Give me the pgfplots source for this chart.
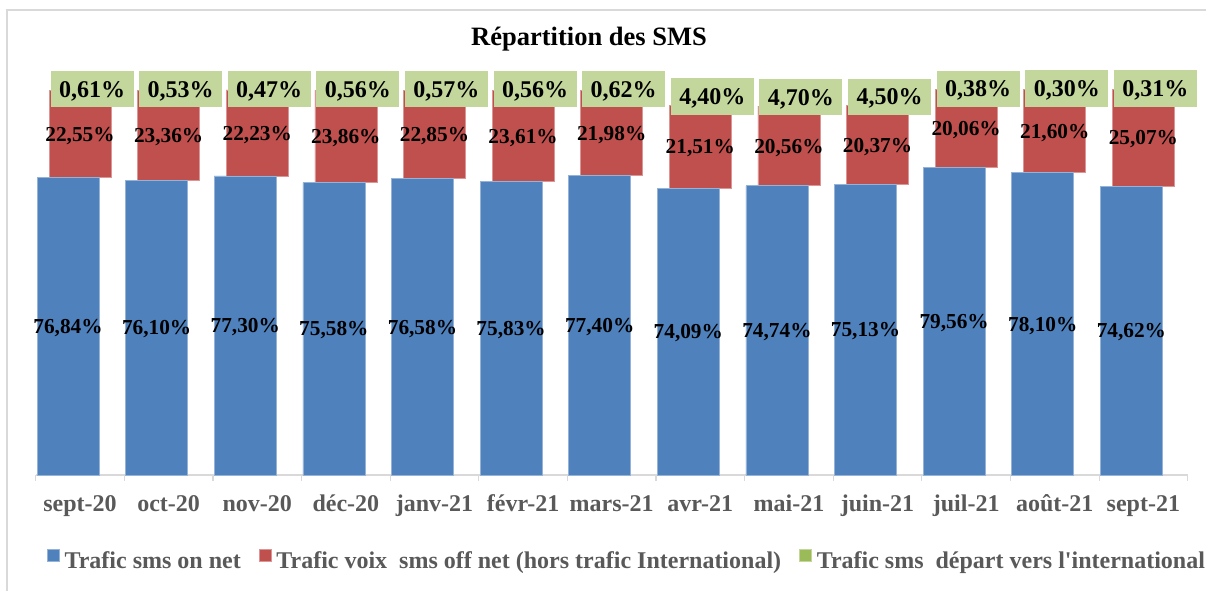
\documentclass[border=0pt]{standalone}
\usepackage{pgfplots}
\pgfplotsset{compat=1.18}
\usepackage{pgfplotstable}
\usepackage{fontspec}
\setmainfont{Liberation Serif}
\definecolor{cblue}{HTML}{4F81BD}
\definecolor{cred}{HTML}{C0504D}
\definecolor{cgreen}{HTML}{9BBB59}
\definecolor{cbox}{HTML}{C3D69B}
\definecolor{ctxt}{HTML}{595959}
\definecolor{cframe}{HTML}{D9D9D9}

\pgfplotstableread{
x on off intl
0 76.84 22.55 0.61
1 76.10 23.36 0.53
2 77.30 22.23 0.47
3 75.58 23.86 0.56
4 76.58 22.85 0.57
5 75.83 23.61 0.56
6 77.40 21.98 0.62
7 74.09 21.51 4.40
8 74.74 20.56 4.70
9 75.13 20.37 4.50
10 79.56 20.06 0.38
11 78.10 21.60 0.30
12 74.62 25.07 0.31
}\data

\pgfplotsset{
  frameaxis/.style={
    scale only axis, width=1152pt, height=387pt,
    at={(35.7pt,115pt)}, anchor=south west,
    xmin=-0.5, xmax=12.5, ymin=0, ymax=100,
    enlargelimits=false, clip=false,
  },
  lbl/.style={
    draw=none, mark=none, point meta=explicit,
    nodes near coords={\pgfmathprintnumber[fixed,fixed zerofill,precision=2,use comma]{\pgfplotspointmeta}\%},
  },
}

\begin{document}
\begin{tikzpicture}
\useasboundingbox (0,0) rectangle (1206pt,590pt);
\clip (0,0) rectangle (1206pt,590pt);
\draw[cframe, line width=1.2pt] (7pt,580pt) rectangle (1300pt,-50pt);

\begin{axis}[frameaxis,
  ybar stacked, bar width=62pt,
  axis x line*=bottom, axis y line=none,
  x axis line style={draw=cframe, line width=1.5pt, -},
  xtick={0,...,12},
  xticklabels={sept-20,oct-20,nov-20,déc-20,janv-21,févr-21,mars-21,avr-21,mai-21,juin-21,juil-21,août-21,sept-21},
  major tick length=0pt,
  minor xtick={-0.5,0.5,...,12.5},
  minor tick length=6pt, tick align=outside,
  minor tick style={draw=cframe, line width=1.2pt},
  xticklabel style={font=\bfseries\fontsize{24}{24}\selectfont, text=ctxt, anchor=base, yshift=-36pt},
  title={Répartition des SMS},
  title style={at={(0.4803,1.0956)}, anchor=base, font=\bfseries\fontsize{26.5}{26.5}\selectfont},
  legend columns=3,
  legend style={at={(0.0098,-0.2222)}, anchor=west, draw=none, fill=none,
    inner sep=0pt, outer sep=0pt,
    font=\bfseries\fontsize{24}{24}\selectfont, text=ctxt,
    nodes={inner sep=0pt, text height=17pt, text depth=5pt},
    /tikz/every odd column/.append style={column sep=5pt},
    /tikz/every even column/.append style={column sep=18pt}},
  legend image code/.code={\fill[#1] (0pt,1.5pt) rectangle (12pt,13.5pt);},
]
\addplot[fill=cblue, draw=cblue!60!white, line width=0.6pt, bar shift=-12pt] table[x=x,y=on]{\data};
\addplot[fill=cred, draw=cred!60!white, line width=0.6pt, bar shift=0pt] table[x=x,y=off]{\data};
\addplot[fill=cgreen, draw=cgreen!60!white, line width=0.6pt, bar shift=12pt] table[x=x,y=intl]{\data};
\legend{Trafic sms on net, Trafic voix~~sms off net (hors trafic International), Trafic sms~~départ vers l\textquotesingle international}
\end{axis}

\begin{axis}[frameaxis, hide axis,
  /pgf/number format/assume math mode=true]
\addplot[lbl, every node near coord/.append style={text=black, anchor=center, inner sep=0pt,
   font=\bfseries\fontsize{21.3}{21.3}\selectfont, text height=14.4pt, text depth=0pt, xshift=-12pt}]
   table[x=x, y expr=\thisrow{on}/2, meta=on]{\data};
\addplot[lbl, every node near coord/.append style={text=black, anchor=center, inner sep=0pt,
   font=\bfseries\fontsize{21.3}{21.3}\selectfont, text height=14.4pt, text depth=0pt}]
   table[x=x, y expr=\thisrow{on}+\thisrow{off}/2, meta=off]{\data};
\addplot[lbl, every node near coord/.append style={text=black, anchor=center, fill=cbox,
   inner xsep=8.5pt, inner ysep=10pt,
   font=\bfseries\fontsize{24}{24}\selectfont, text height=16.2pt, text depth=0pt, xshift=12pt}]
   table[x=x, y expr=\thisrow{on}+\thisrow{off}+\thisrow{intl}/2, meta=intl]{\data};
\end{axis}
\end{tikzpicture}
\end{document}
